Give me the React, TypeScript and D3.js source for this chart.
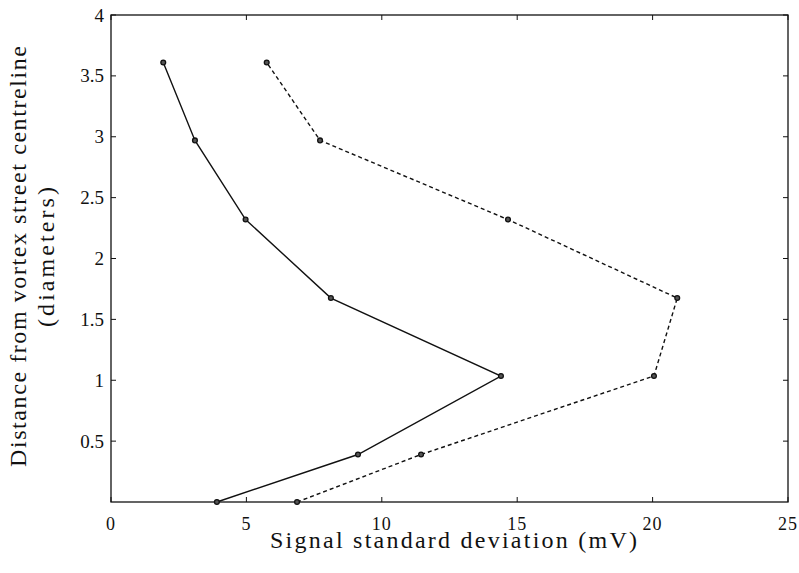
import React from "react";
import * as d3 from "d3";

const distance = [0, 0.39, 1.035, 1.675, 2.32, 2.97, 3.61];
const solidStd = [3.91, 9.12, 14.4, 8.12, 4.97, 3.1, 1.93];
const dashedStd = [6.87, 11.45, 20.05, 20.91, 14.66, 7.72, 5.75];
const xTicks = [0, 5, 10, 15, 20, 25];
const yTicks = [0.5, 1, 1.5, 2, 2.5, 3, 3.5, 4];

const W = 799, H = 573;
const L = 111, R = 788, T = 15, B = 502;
const FONT = "Liberation Serif";

export default function App() {
  const x = d3.scaleLinear().domain([0, 25]).range([L, R]);
  const y = d3.scaleLinear().domain([0, 4]).range([B, T]);
  const line = d3.line<[number, number]>().x(d => x(d[0])).y(d => y(d[1]));
  const solidPts: [number, number][] = solidStd.map((v, i) => [v, distance[i]]);
  const dashedPts: [number, number][] = dashedStd.map((v, i) => [v, distance[i]]);
  const tk = 5;
  const ts = { fontFamily: FONT };
  return (
    <svg width={W} height={H} style={{ position: "absolute", left: 0, top: 0, background: "#fff" }}>
      <rect x={L} y={T} width={R - L} height={B - T} fill="none" stroke="#111" strokeWidth={1.3} />
      {xTicks.map(t => (
        <g key={"x" + t}>
          <line x1={x(t)} x2={x(t)} y1={B} y2={B - tk} stroke="#111" />
          <line x1={x(t)} x2={x(t)} y1={T} y2={T + tk} stroke="#111" />
          <text x={x(t)} y={530} textAnchor="middle" fontSize={18} letterSpacing={1} fill="#111" style={ts}>{t}</text>
        </g>
      ))}
      {yTicks.map(t => (
        <g key={"y" + t}>
          <line x1={L} x2={L + tk} y1={y(t)} y2={y(t)} stroke="#111" />
          <line x1={R} x2={R - tk} y1={y(t)} y2={y(t)} stroke="#111" />
          <text x={L - 7} y={y(t) + 6.5} textAnchor="end" fontSize={19} fill="#111" style={ts}>{t}</text>
        </g>
      ))}
      <path d={line(solidPts) || ""} fill="none" stroke="#111" strokeWidth={1.4} />
      <path d={line(dashedPts) || ""} fill="none" stroke="#111" strokeWidth={1.4} strokeDasharray="4,3" />
      {solidPts.concat(dashedPts).map((p, i) => (
        <circle key={"c" + i} cx={x(p[0])} cy={y(p[1])} r={2.4} fill="#555" stroke="#111" strokeWidth={1.3} />
      ))}
      <text x={270} y={548} fontSize={24} textLength={367} lengthAdjust="spacing" fill="#111" style={ts}>Signal standard deviation (mV)</text>
      <g transform="translate(26, 257) rotate(-90)">
        <text x={-210} y={0} fontSize={24} textLength={421} lengthAdjust="spacing" fill="#111" style={ts}>Distance from vortex street centreline</text>
        <text x={-70} y={28} fontSize={24} textLength={140} lengthAdjust="spacing" fill="#111" style={ts}>(diameters)</text>
      </g>
    </svg>
  );
}
